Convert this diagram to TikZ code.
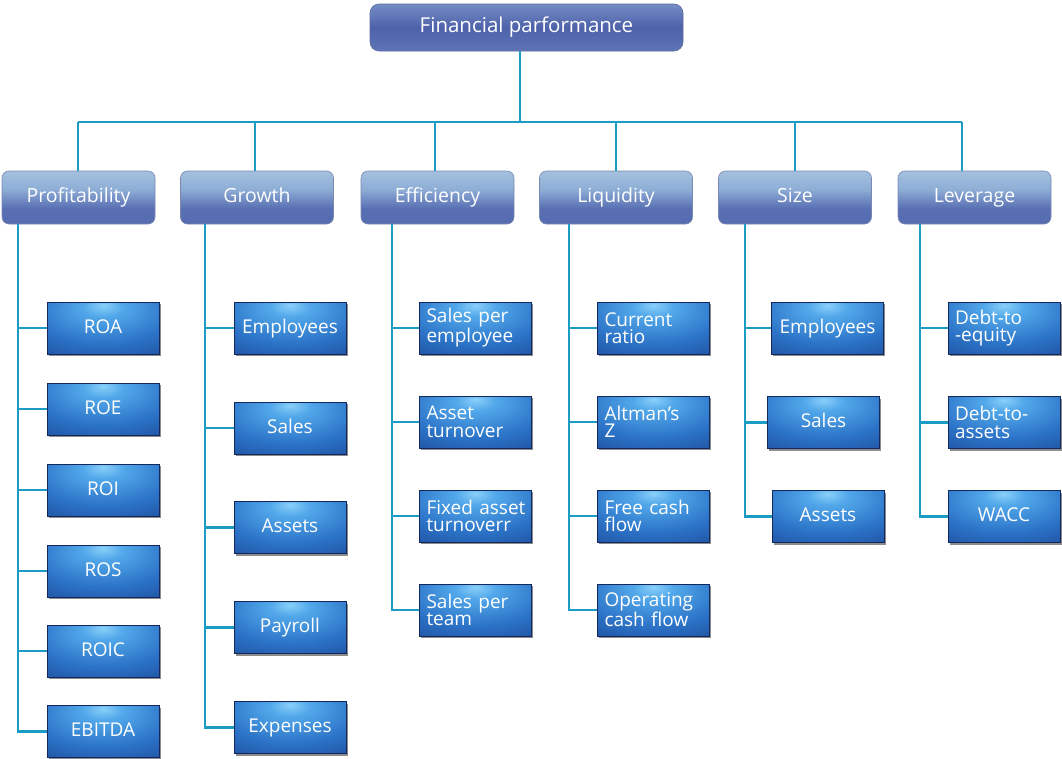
\documentclass[tikz,border=0pt]{standalone}
\usepackage{fontspec}
\newfontfamily\lab{Open Sans}
\usetikzlibrary{shadows}
\definecolor{connc}{HTML}{1A9CC4}
\definecolor{toptop}{HTML}{9AB8DE}
\definecolor{topmid}{HTML}{4E62AA}
\definecolor{topbot}{HTML}{6C88C6}
\definecolor{topedge}{HTML}{5C6C9C}
\definecolor{cattop}{HTML}{C4DCEA}
\definecolor{catlt}{HTML}{8EAED6}
\definecolor{catmid}{HTML}{5A70B4}
\definecolor{catbot}{HTML}{5064A8}
\definecolor{catedge}{HTML}{7A88B0}
\definecolor{leafhi}{HTML}{8AD0FA}
\definecolor{leafhi2}{HTML}{52A8EA}
\definecolor{leafmid}{HTML}{2C74C8}
\definecolor{leafout}{HTML}{173A86}
\definecolor{leafedge}{HTML}{15285E}
\pgfdeclareverticalshading{catsh}{100bp}{color(0bp)=(catbot); color(40bp)=(catmid); color(58bp)=(catlt); color(100bp)=(cattop)}
\pgfdeclareverticalshading{topsh}{100bp}{color(0bp)=(topbot); color(50bp)=(topmid); color(100bp)=(toptop)}
\pgfdeclareradialshading{leafsh}{\pgfpoint{0bp}{22bp}}{color(0bp)=(leafhi); color(9bp)=(leafhi2); color(30bp)=(leafmid); color(60bp)=(leafout); color(100bp)=(leafout)}
\begin{document}
\begin{tikzpicture}[x=1pt,y=-1pt,
  conn/.style={draw=connc,line width=2.9pt},
  topbox/.style={shade,shading=topsh,rounded corners=9pt,draw=topedge,line width=0.6pt,
    minimum width=313pt,minimum height=47pt,inner sep=0pt,text=white,
    text height=14pt,text depth=4pt,
    font=\lab\fontsize{20.5}{22}\selectfont},
  catbox/.style={shade,shading=catsh,rounded corners=7pt,draw=catedge,line width=0.6pt,
    minimum width=153pt,minimum height=53pt,inner sep=0pt,text=white,
    text height=14pt,text depth=5pt,
    font=\lab\fontsize{19.5}{21}\selectfont},
  leafbase/.style={shade,shading=leafsh,draw=leafedge,line width=0.4pt,
    minimum width=112pt,minimum height=52pt,inner sep=0pt,text=white,
    font=\lab\fontsize{19}{17.5}\selectfont,
    drop shadow={shadow xshift=1.5pt,shadow yshift=-2pt,opacity=0.45,fill=black}},
  leaf/.style={leafbase,text height=14pt,text depth=4pt},
  leaftwo/.style={leafbase,text width=98pt,align=left,
    execute at begin node={\hyphenpenalty=10000\exhyphenpenalty=10000\hbadness=10000\hfuzz=20pt}}]
\useasboundingbox (0,0) rectangle (1062,758);

% top
\node[topbox] (top) at (526.5,27.5) {Financial parformance};

% categories
\node[catbox] (prof) at (78.5,197.5) {Profitability};
\node[catbox] (grow) at (257,197.5) {Growth};
\node[catbox] (effi) at (437.5,197.5) {Efficiency};
\node[catbox] (liqu) at (616,197.5) {Liquidity};
\node[catbox] (size) at (795,197.5) {Size};
\node[catbox] (leve) at (974.5,197.5) {Leverage};

% profitability leaves
\node[leaf] (p1) at (103,328) {ROA};
\node[leaf] (p2) at (103,409) {ROE};
\node[leaf] (p3) at (103,490) {ROI};
\node[leaf] (p4) at (103,571) {ROS};
\node[leaf] (p5) at (103,651) {ROIC};
\node[leaf] (p6) at (103,731.5) {EBITDA};

% growth leaves
\node[leaf] (g1) at (290,328) {Employees};
\node[leaf] (g2) at (290,428) {Sales};
\node[leaf] (g3) at (290,527.5) {Assets};
\node[leaf] (g4) at (290,627.5) {Payroll};
\node[leaf] (g5) at (290,727.5) {Expenses};

% efficiency leaves
\node[leaftwo] (e1) at (475.5,328) {Sales per\\employee};
\node[leaftwo] (e2) at (475.5,422) {Asset\\turnover};
\node[leaftwo] (e3) at (475.5,516) {Fixed~asset\\turnoverr};
\node[leaftwo] (e4) at (475.5,610) {Sales per\\team};

% liquidity leaves
\node[leaftwo] (l1) at (653.5,328) {Current\\ratio};
\node[leaftwo] (l2) at (653.5,422) {Altman’s\\Z};
\node[leaftwo] (l3) at (653.5,516) {Free cash\\flow};
\node[leaftwo] (l4) at (653.5,610) {Operating\\cash flow};

% size leaves
\node[leaf] (s1) at (827.5,328) {Employees};
\node[leaf] (s2) at (823.5,422.5) {Sales};
\node[leaf] (s3) at (828,516.5) {Assets};

% leverage leaves
\node[leaftwo] (v1) at (1004,328) {Debt-to\\-equity};
\node[leaftwo] (v2) at (1004,422.5) {Debt-to-\\assets};
\node[leaf] (v3) at (1004,516.5) {WACC};

% connectors: top and bus
\coordinate (tvx) at (520,0);
\coordinate (b1) at (78,122);
\coordinate (b2) at (255,122);
\coordinate (b3) at (435,122);
\coordinate (b4) at (616,122);
\coordinate (b5) at (795,122);
\coordinate (b6) at (962,122);
\draw[conn] (top.south -| tvx) -- (b1 -| tvx);
\draw[conn] (b1) -- (b6);
\draw[conn] (b1) -- (b1 |- prof.north);
\draw[conn] (b2) -- (b2 |- grow.north);
\draw[conn] (b3) -- (b3 |- effi.north);
\draw[conn] (b4) -- (b4 |- liqu.north);
\draw[conn] (b5) -- (b5 |- size.north);
\draw[conn] (b6) -- (b6 |- leve.north);

% leaf connectors
\coordinate (pv) at (18,0);
\coordinate (gv) at (205,0);
\coordinate (ev) at (392,0);
\coordinate (lv) at (569,0);
\coordinate (sv) at (745,0);
\coordinate (vv) at (920,0);
\draw[conn] (prof.south -| pv) |- (p6.west);
\foreach \n in {p1,p2,p3,p4,p5} \draw[conn] (\n.west -| pv) -- (\n.west);
\draw[conn] (grow.south -| gv) |- (g5.west);
\foreach \n in {g1,g2,g3,g4} \draw[conn] (\n.west -| gv) -- (\n.west);
\draw[conn] (effi.south -| ev) |- (e4.west);
\foreach \n in {e1,e2,e3} \draw[conn] (\n.west -| ev) -- (\n.west);
\draw[conn] (liqu.south -| lv) |- (l4.west);
\foreach \n in {l1,l2,l3} \draw[conn] (\n.west -| lv) -- (\n.west);
\draw[conn] (size.south -| sv) |- (s3.west);
\foreach \n in {s1,s2} \draw[conn] (\n.west -| sv) -- (\n.west);
\draw[conn] (leve.south -| vv) |- (v3.west);
\foreach \n in {v1,v2} \draw[conn] (\n.west -| vv) -- (\n.west);
\end{tikzpicture}
\end{document}
